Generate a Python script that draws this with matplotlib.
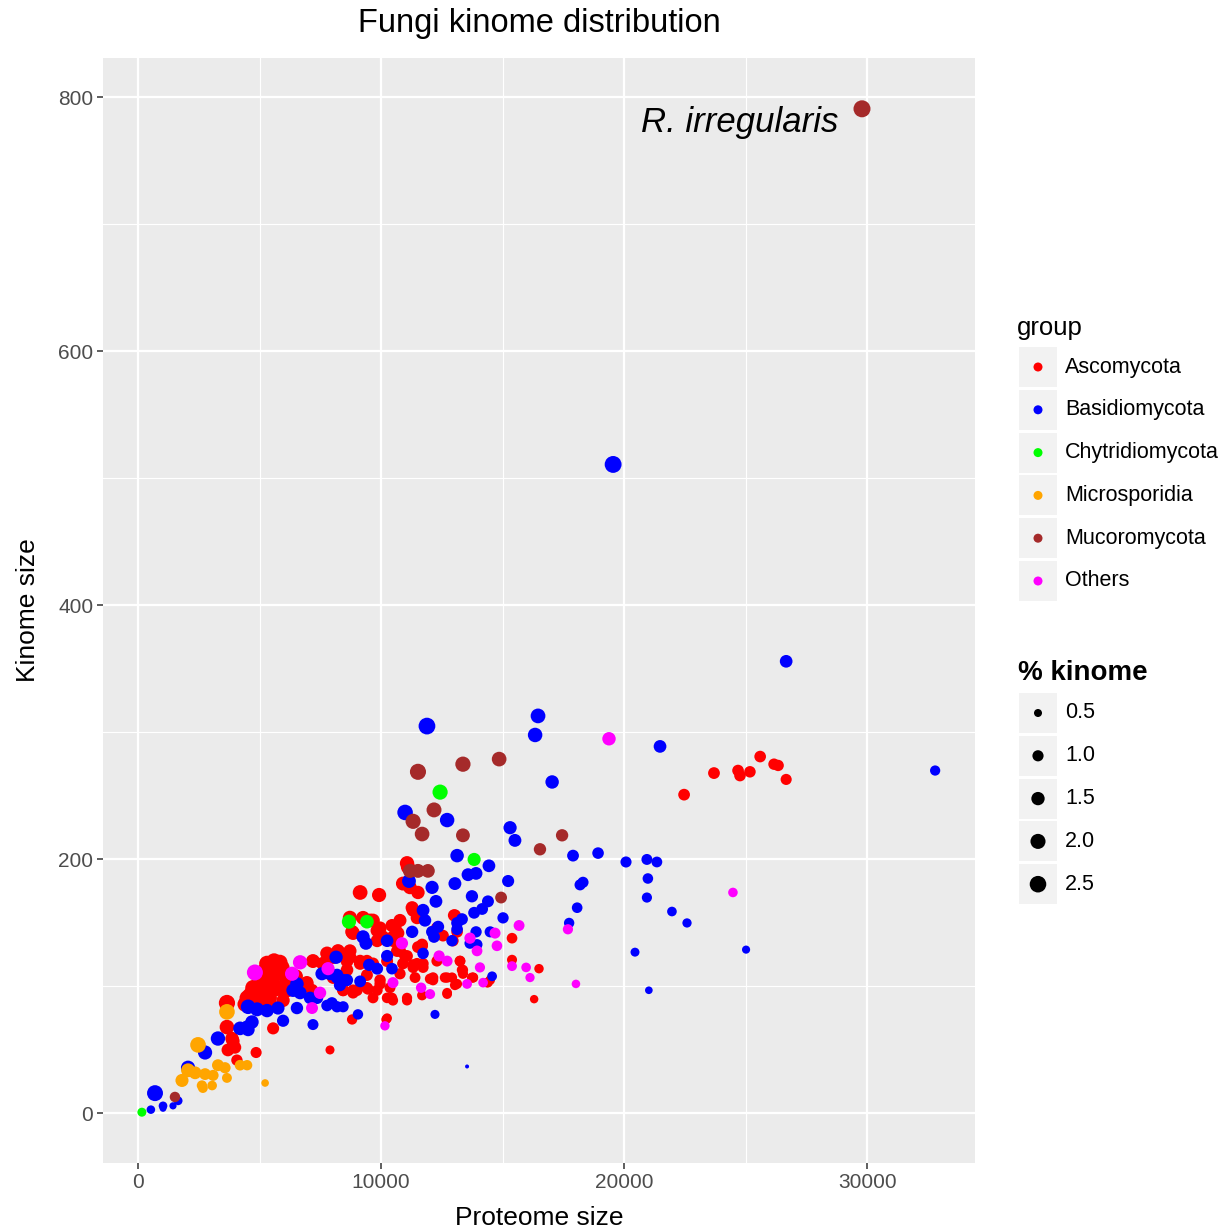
import numpy as np
import pandas as pd
import matplotlib
matplotlib.use("Agg")
import matplotlib.pyplot as plt
from matplotlib.patches import Rectangle

plt.rcParams['font.family'] = ['Liberation Sans', 'DejaVu Sans']

# ----- Datos (proteome size, kinome size) -----

asco_x = [23700, 22470, 24690, 24770, 25180, 25600, 26170, 26340, 26670,
          15390, 15390, 16500, 16300, 10250, 9140, 9920, 11110, 11520, 5560, 4860, 7900, 8810, 10210,
          3660, 3660, 3910, 3700, 4070, 3990, 3870,
          4490, 4900, 5310, 5720, 5140, 5560, 5430, 5970, 6130, 5930, 4730, 5020, 6950, 7200, 7780,
          8310, 8720, 9140, 8600, 8440, 8850, 9420, 9840, 10250, 10490, 11070, 11690, 9960, 10780,
          11320, 11730, 12140, 12720, 13250, 13370, 12720, 13130, 13790, 14400, 13040, 12960, 12300,
          11690, 11320, 10780, 10490, 10660, 10250, 9840, 9840, 8850, 9260, 9670, 8720, 8030, 7610,
          8030, 9670, 10370, 11190, 10900, 11070,
          5840, 4900, 5560, 4730, 5140, 5720, 4490, 5970, 6950, 7160, 6170, 5430, 9140, 9420, 9460,
          8440, 8850, 11280, 11480, 10580, 9960, 9550, 8810, 10080, 10490, 10780, 11070, 11520,
          13000, 13130, 12550, 8230, 8720, 8600, 9420, 9670, 10900, 11320, 11730, 12300, 13250,
          13370, 12630, 12020, 13790, 14360, 13040, 11400, 9960, 9010, 11070, 12720, 10450,
          10700, 11690, 10990, 11480, 13330, 13740, 14490, 12920, 10450, 12140,
          5200, 5500, 5800, 6000, 5100, 4700, 5300, 6300, 5600, 4400, 4600, 5900, 6500, 5000]
asco_y = [268, 251, 270, 266, 269, 281, 275, 274, 263,
          138, 121, 114, 90, 75, 174, 172, 194, 174, 67, 48, 50, 74, 74,
          87, 68, 57, 50, 42, 52, 59,
          91, 97, 118, 118, 107, 102, 91, 97, 107, 115, 99, 89, 102, 120, 126,
          126, 123, 120, 113, 97, 97, 99, 97, 91, 89, 89, 93, 105, 110,
          115, 118, 107, 107, 120, 110, 94, 102, 107, 103, 156, 136, 146,
          132, 160, 152, 139, 128, 120, 136, 144, 142, 154, 152, 154, 123, 118,
          107, 91, 99, 178, 181, 197,
          119, 110, 107, 97, 97, 98, 89, 89, 103, 97, 97, 87, 118, 109, 98,
          97, 95, 162, 154, 146, 146, 152, 143, 139, 136, 128, 124, 131,
          156, 143, 140, 128, 128, 120, 120, 118, 118, 117, 115, 120, 120,
          113, 107, 106, 107, 103, 101, 107, 102, 97, 91, 95, 148,
          142, 133, 124, 118, 113, 107, 105, 107, 91, 105,
          112, 105, 112, 100, 95, 90, 93, 100, 120, 86, 93, 110, 108, 103]

basi_x = [19550, 26670, 32800, 11890, 16460, 16340, 17040, 21480, 10990, 12720, 15310, 15510,
          17900, 18930, 20080, 20940, 21350, 20980, 18310, 18190, 18070, 17740, 21970, 22590,
          20450, 25020, 21020, 20940, 13540,
          13130, 14440, 13580, 13910, 13040, 15230, 12100, 11150, 13740, 12260, 14400, 14160,
          13830, 15020, 11730, 11810, 13330, 13130, 12350, 11280, 12100, 13910, 14490, 12180,
          13130, 12920, 13660, 13950, 10250, 9260, 9380, 11730, 10250, 8150, 9510, 10450, 9840,
          9140, 8190, 8440, 14570,
          7570, 7900, 8190, 8600, 8310, 6540, 6380, 6670, 7080, 7370, 7980, 8190, 8440, 7780,
          6540, 9050, 7200, 5970, 5760, 5310, 4900, 4530, 4690, 4490, 4200, 3290, 2760,
          700, 530, 1030, 1030, 1440, 1650, 2060, 4530, 12220]
basi_y = [511, 356, 270, 305, 313, 298, 261, 289, 237, 231, 225, 215,
          203, 205, 198, 200, 198, 185, 182, 180, 162, 150, 159, 150,
          127, 129, 97, 170, 37,
          203, 195, 188, 189, 181, 183, 178, 183, 171, 167, 167, 161,
          158, 154, 160, 152, 153, 150, 147, 143, 143, 143, 143, 139,
          145, 136, 134, 133, 136, 139, 134, 126, 124, 123, 117, 114, 114,
          104, 107, 105, 108,
          110, 110, 109, 105, 101, 102, 97, 95, 91, 91, 87, 84, 84, 85,
          83, 78, 70, 73, 83, 81, 82, 84, 72, 68, 67, 59, 48,
          16, 3, 6, 4, 6, 10, 36, 66, 78]

chyt_x = [12430, 13830, 8680, 9420, 160]
chyt_y = [253, 200, 151, 151, 1]

micr_x = [2470, 3660, 2060, 1810, 2350, 2760, 2630, 3090, 3290, 3580, 2670, 3050, 3660, 4200, 4490, 5230]
micr_y = [54, 80, 34, 26, 32, 31, 22, 30, 38, 36, 20, 22, 28, 38, 38, 24]

muco_x = [29790, 11520, 13370, 14860, 12180, 11320, 11690, 13370, 17450, 16540, 14940, 11190, 11520, 11930, 1520]
muco_y = [791, 269, 275, 279, 239, 230, 220, 219, 219, 208, 170, 191, 191, 191, 13]

otro_x = [19380, 24480, 17690, 18020, 15680, 14770, 13950, 14690, 14070, 15390, 15970, 16130, 12720,
          12390, 13540, 14200, 12020, 11650, 10160, 10490, 13660, 4810, 6670, 6340, 7490, 7160, 7820, 10860]
otro_y = [295, 174, 145, 102, 148, 132, 128, 142, 115, 116, 115, 107, 120,
          124, 102, 103, 94, 99, 69, 103, 138, 111, 119, 110, 95, 83, 114, 134]

grupos = ['Ascomycota', 'Basidiomycota', 'Chytridiomycota', 'Microsporidia', 'Mucoromycota', 'Others']
colores = ['#FF0000', '#0000FF', '#00FF00', '#FFA500', '#A52A2A', '#FF00FF']
size_breaks = [0.5, 1.0, 1.5, 2.0, 2.5]

datos = pd.concat([
    pd.DataFrame({'proteome': x, 'kinome': y, 'group': g})
    for x, y, g in zip([asco_x, basi_x, chyt_x, micr_x, muco_x, otro_x],
                       [asco_y, basi_y, chyt_y, micr_y, muco_y, otro_y], grupos)
], ignore_index=True)
datos['pct'] = datos['kinome'] / datos['proteome'] * 100

pmin, pmax = datos['pct'].min(), datos['pct'].max()


# escala de area tipo ggplot (diametro en pixeles -> s en pt^2)
def tamano(p):
    frac = np.clip((np.asarray(p) - pmin) / (pmax - pmin), 0, 1)
    d_px = 4 + 13 * np.sqrt(frac)
    return (d_px * 0.72) ** 2


#----- Grafica -----

fig = plt.figure(figsize=(12.3, 12.32), dpi=100)
ax = fig.add_axes([103 / 1230, 1 - 1163 / 1232, 872 / 1230, 1105 / 1232])
ax.set_facecolor('#EBEBEB')

for g, c in zip(grupos, colores):
    sub = datos[datos['group'] == g]
    ax.scatter(sub['proteome'], sub['kinome'], s=tamano(sub['pct']), color=c,
               edgecolors='none', zorder=3)

ax.set_xlim(-1440, 34440)
ax.set_ylim(-39, 831)
ax.set_xticks([0, 10000, 20000, 30000])
ax.set_yticks([0, 200, 400, 600, 800])
ax.set_xticks([5000, 15000, 25000], minor=True)
ax.set_yticks([100, 300, 500, 700], minor=True)
ax.grid(True, which='major', color='white', linewidth=1.6, zorder=1)
ax.grid(True, which='minor', color='white', linewidth=0.8, zorder=1)
ax.set_axisbelow(True)
for sp in ax.spines.values():
    sp.set_visible(False)
ax.tick_params(which='major', length=4, width=1.1, color='#333333', labelcolor='#4D4D4D',
               labelsize=15, pad=3)
ax.tick_params(which='minor', length=0)

ax.set_xlabel('Proteome size', fontsize=19, labelpad=10)
ax.set_ylabel('Kinome size', fontsize=19, labelpad=13)
ax.set_title('Fungi kinome distribution', fontsize=23.5, pad=18.5)

# etiqueta de R. irregularis
top = datos.loc[datos['kinome'].idxmax()]
ax.annotate('R. irregularis', xy=(top['proteome'], top['kinome']), xytext=(-17, -10),
            textcoords='offset points', ha='right', va='center', fontsize=25,
            style='italic', color='black')

#----- Leyendas (en pixeles) -----

lax = fig.add_axes([0, 0, 1, 1], zorder=5)
lax.set_xlim(0, 1230)
lax.set_ylim(1232, 0)
lax.axis('off')

lax.text(1017, 328, 'group', fontsize=18.5, ha='left', va='center')
for i, (g, c) in enumerate(zip(grupos, colores)):
    yc = 367 + i * 42.8
    lax.add_patch(Rectangle((1019, yc - 20), 38, 40, facecolor='#F2F2F2', edgecolor='none'))
    lax.scatter([1038], [yc], s=(9 * 0.72) ** 2, color=c, edgecolors='none')
    lax.text(1065, yc, g, fontsize=15.5, ha='left', va='center')

lax.text(1018, 673, '% kinome', fontsize=20, fontweight='bold', ha='left', va='center')
for i, b in enumerate(size_breaks):
    yc = 713 + i * 42.8
    lax.add_patch(Rectangle((1019, yc - 20), 38, 40, facecolor='#F2F2F2', edgecolor='none'))
    lax.scatter([1038], [yc], s=tamano(b), color='black', edgecolors='none')
    lax.text(1065, yc, f'{b:.1f}', fontsize=15.5, ha='left', va='center')

fig.savefig('out.png', dpi=100)
